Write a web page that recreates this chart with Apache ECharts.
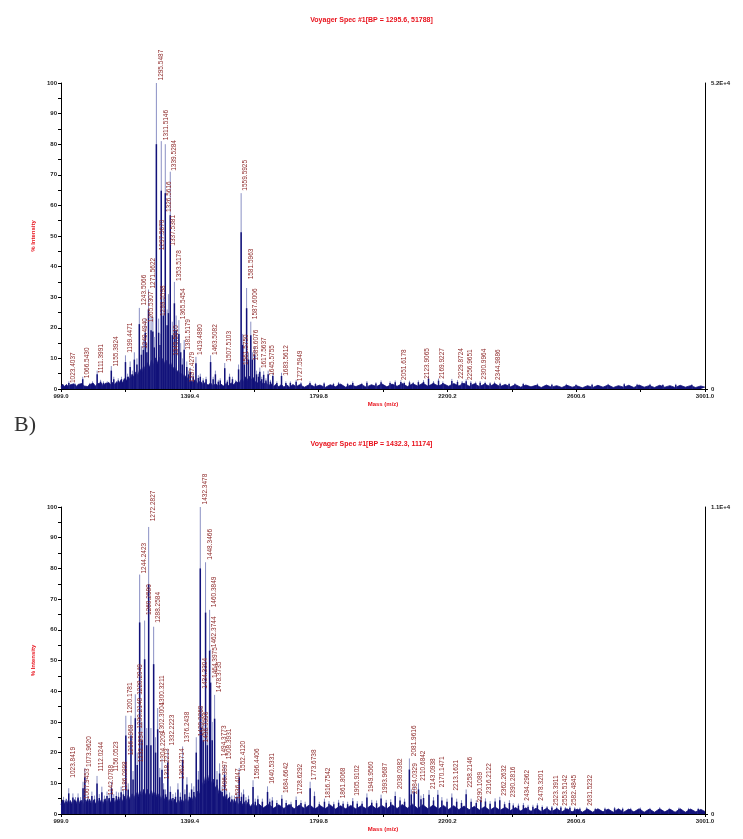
<!DOCTYPE html>
<html>
<head>
<meta charset="utf-8">
<title>Voyager spectra</title>
<script src="https://cdn.jsdelivr.net/npm/echarts@6/dist/echarts.min.js"></script>
<style>
  html, body { margin: 0; padding: 0; background: #fff; }
  #chart { width: 743px; height: 839px; }
</style>
</head>
<body>
<div id="chart"></div>
<script>
// axis ticks (m/z)
var massTicks = [999.0, 1199.2, 1399.4, 1599.6, 1799.8, 2000.0, 2200.2, 2400.4, 2600.6, 2800.8, 3001.0]
var massLabels = [999.0, 1399.4, 1799.8, 2200.2, 2600.6, 3001.0]

var titleA = 'Voyager Spec #1[BP = 1295.6, 51788]'
var titleB = 'Voyager Spec #1[BP = 1432.3, 11174]'
var scaleA = '5.2E+4'
var scaleB = '1.1E+4'

// ---------- spectrum A ----------
// [m/z, % intensity]
var peaksA = [
  [1023.4, 2.5], [1043, 1.8], [1066.5, 4], [1088, 2], [1097, 2.5], [1111.4, 6], [1122, 3], [1131, 2.5],
  [1143, 2.5], [1155.4, 7.5], [1163, 4], [1177, 3.5], [1187, 4], [1199.4, 11], [1206, 5], [1214, 9],
  [1221, 6], [1227, 12], [1235, 10], [1242.5, 26.5], [1249, 14], [1255, 16], [1261, 23], [1266, 15],
  [1271, 32.5], [1279, 24], [1284.5, 23.5], [1289, 17], [1295.5, 100], [1302.5, 23], [1307, 18],
  [1310.7, 81], [1317, 30], [1323.2, 80], [1329, 26], [1333, 31], [1338.7, 71], [1345, 22], [1351.5, 35],
  [1357, 24], [1365.5, 22.5], [1371, 15], [1376, 10], [1382, 16], [1390, 9], [1396, 6], [1401, 7],
  [1410, 5], [1418.5, 10.5], [1426, 4.5], [1432, 5], [1441, 3.5], [1450, 4], [1464, 11], [1472, 4],
  [1479, 6], [1488, 3], [1494, 3.5], [1508, 8.5], [1516, 3], [1523, 5], [1532, 4], [1542, 3],
  [1551, 8], [1559, 64], [1564, 18], [1569, 10], [1576, 33], [1582, 12], [1589, 22], [1594, 12],
  [1601, 14], [1607, 6], [1613, 5], [1617, 7], [1623, 4], [1629, 5.8], [1636, 3.5], [1643, 6],
  [1650, 3], [1657.5, 5.3], [1670, 2.5], [1684.5, 5.3], [1698, 2.5], [1712, 2.5], [1730, 3],
  [1745, 2.2], [1773, 2.5], [1790, 2], [1817, 2.2], [1846, 2], [1862, 2.3], [1890, 2], [1906, 2.5],
  [1934, 2], [1950, 2.6], [1978, 2.2], [1994, 2.8], [2022, 2.5], [2038, 2.8], [2055.5, 2.9],
  [2066, 2.4], [2082.4, 2.7], [2094, 2.3], [2110, 2.8], [2126, 2.9], [2141.5, 4.2], [2157, 2.6],
  [2172.6, 3.4], [2186, 2.5], [2214, 3.3], [2231.6, 2.9], [2246, 2.6], [2258.6, 3.2], [2273, 2.6],
  [2288, 2.4], [2302, 2.6], [2317.6, 2.4], [2333, 2.2], [2346.6, 2.4], [2364, 2.1], [2392, 2.0],
  [2410, 1.9], [2436, 2.0], [2480, 1.8], [2525, 1.7], [2570, 1.7], [2600, 1.6], [2650, 1.7],
  [2700, 1.7], [2750, 1.9], [2790, 1.7], [2830, 1.7], [2870, 1.6], [2910, 1.7], [2960, 1.6]
]

// [m/z, % intensity where the label starts, text]
var labelsA = [
  [1023.4, 1.6, '1023.4037'], [1066.5, 3.2, '1066.5430'], [1111.4, 4.8, '1111.3991'],
  [1155.4, 7, '1155.3924'], [1199.4, 11.5, '1199.4471'], [1242.5, 27, '1243.5066'],
  [1248, 12.8, '1249.4940'], [1264, 21.5, '1265.5307'], [1270.5, 32.5, '1271.5622'],
  [1295.5, 100.5, '1295.5487'], [1300.5, 45, '1297.5670'], [1302.5, 23.5, '1299.5598'],
  [1310.7, 81, '1311.5146'], [1322, 57.5, '1326.5616'], [1335, 46.5, '1337.5381'],
  [1337.5, 71, '1339.5284'], [1344, 10.5, '1345.5610'], [1351.5, 35, '1353.5178'],
  [1365.5, 22.5, '1365.5454'], [1381, 12.5, '1381.5179'], [1393, 1.8, '1397.4279'],
  [1418.5, 10.8, '1419.4880'], [1463.5, 10.8, '1463.5082'], [1508, 8.6, '1507.5103'],
  [1559, 64.5, '1559.5925'], [1561, 7.5, '1561.5750'], [1576, 35.5, '1581.5963'],
  [1589, 22.5, '1587.6006'], [1592, 9, '1589.6076'], [1617, 6.5, '1617.5637'],
  [1643, 4, '1645.5755'], [1684.5, 4, '1683.5612'], [1728, 2.2, '1727.5949'],
  [2052, 2.6, '2051.6178'], [2124, 3, '2123.9065'], [2169, 3, '2169.9227'],
  [2230, 3, '2229.8724'], [2257, 2.6, '2256.9651'], [2301, 2.8, '2300.9964'],
  [2345, 2.6, '2344.9886']
]

// baseline / unresolved envelope, [m/z, % intensity]
var baseA = [
  [999, 0.6], [1004, 1.6], [1010, 0.8], [1016, 1.5], [1022, 0.7], [1028, 1.4], [1034, 0.9], [1040, 1.7],
  [1046, 0.8], [1052, 1.5], [1058, 0.9], [1064, 1.8], [1070, 1.0], [1076, 1.6], [1082, 0.8], [1088, 1.5],
  [1094, 1.0], [1100, 1.8], [1106, 0.9], [1112, 1.7], [1118, 1.1], [1124, 2.0], [1130, 1.0], [1136, 1.8],
  [1142, 1.2], [1148, 2.1], [1154, 1.3], [1160, 2.2], [1166, 1.4], [1172, 2.4], [1178, 1.6], [1184, 2.8],
  [1190, 2.0], [1196, 3.4], [1202, 2.6], [1208, 4.0], [1214, 3.0], [1220, 4.8], [1226, 3.8], [1232, 5.6],
  [1238, 4.4], [1244, 6.6], [1250, 5.2], [1256, 7.6], [1262, 6.0], [1268, 8.6], [1274, 7.0], [1280, 9.4],
  [1286, 7.6], [1292, 10.2], [1298, 8.2], [1304, 10.4], [1310, 8.4], [1316, 10.0], [1322, 8.0], [1328, 9.4],
  [1334, 7.4], [1340, 8.6], [1346, 6.4], [1352, 7.4], [1358, 5.4], [1364, 6.2], [1370, 4.4], [1376, 5.2],
  [1382, 3.6], [1388, 4.4], [1394, 3.0], [1400, 3.6], [1408, 2.4], [1416, 3.0], [1424, 1.8], [1432, 2.6],
  [1440, 1.5], [1448, 2.2], [1456, 1.2], [1464, 2.0], [1472, 1.0], [1480, 1.8], [1488, 0.9], [1496, 1.6],
  [1504, 1.0], [1512, 1.8], [1520, 1.1], [1528, 2.0], [1536, 1.4], [1544, 2.4], [1552, 1.8], [1560, 3.2],
  [1566, 2.4], [1572, 4.0], [1578, 2.8], [1584, 4.2], [1590, 3.0], [1596, 3.8], [1602, 2.4], [1608, 3.0],
  [1614, 1.8], [1620, 2.6], [1628, 1.4], [1636, 2.2], [1644, 1.0], [1652, 1.8], [1660, 0.8], [1668, 1.6],
  [1676, 0.7], [1684, 1.5], [1692, 0.6], [1700, 1.4], [1710, 0.6], [1720, 1.5], [1730, 0.7], [1740, 1.4],
  [1756, 0.6], [1772, 1.5], [1788, 0.7], [1804, 1.3], [1820, 0.5], [1836, 1.4], [1852, 0.7], [1868, 1.6],
  [1884, 0.6], [1900, 1.3], [1916, 0.8], [1932, 1.5], [1948, 0.6], [1964, 1.4], [1980, 0.8], [1996, 1.7],
  [2012, 0.7], [2028, 1.6], [2044, 0.9], [2060, 1.8], [2076, 0.8], [2092, 1.7], [2108, 1.0], [2124, 1.9],
  [2140, 0.9], [2156, 1.8], [2172, 1.0], [2188, 1.7], [2204, 0.9], [2220, 1.8], [2236, 1.0], [2252, 1.9],
  [2268, 0.9], [2284, 1.7], [2300, 0.8], [2316, 1.6], [2332, 0.9], [2348, 1.7], [2364, 0.8], [2380, 1.5],
  [2396, 0.7], [2412, 1.4], [2428, 0.6], [2444, 1.3], [2460, 0.7], [2476, 1.2], [2492, 0.5], [2508, 1.3],
  [2524, 0.6], [2540, 1.1], [2556, 0.5], [2572, 1.2], [2588, 0.6], [2604, 1.0], [2620, 0.4], [2636, 1.1],
  [2652, 0.5], [2668, 1.2], [2684, 0.6], [2700, 1.3], [2716, 0.5], [2732, 1.1], [2748, 0.6], [2764, 1.2],
  [2780, 0.5], [2796, 1.3], [2812, 0.6], [2828, 1.1], [2844, 0.5], [2860, 1.2], [2876, 0.6], [2892, 1.1],
  [2908, 0.5], [2924, 1.2], [2940, 0.6], [2956, 1.1], [2972, 0.5], [2988, 1.0], [3001, 0.6]
]

// ---------- spectrum B ----------
var peaksB = [
  [1007, 5.6], [1015, 5], [1023, 8.4], [1036, 6.7], [1044, 5.5], [1052, 6.7], [1060, 5.5], [1067.5, 10.5],
  [1073, 15], [1082, 6], [1095, 7.3], [1103, 6], [1111, 12.4], [1118, 6.5], [1126, 8.9], [1134, 6],
  [1142, 7.3], [1149, 6.5], [1156, 10.5], [1163, 6.5], [1171, 7.3], [1178, 7], [1186, 8.9], [1193, 8],
  [1200.5, 32], [1208, 10], [1216.5, 32], [1223, 14], [1230, 39], [1236, 20], [1243.5, 78], [1250.5, 30],
  [1259, 63], [1265.5, 28], [1271.5, 93.5], [1278.5, 28], [1287, 61], [1293, 25], [1299.5, 34.5],
  [1306, 15], [1313, 18], [1318, 10], [1324, 8], [1331, 21], [1339, 9], [1347, 6.5], [1355, 7],
  [1362.5, 10], [1370, 7], [1377, 22], [1384, 8], [1390.5, 12], [1398, 7], [1405, 10], [1412, 9],
  [1419.5, 25], [1426, 14], [1432, 100], [1436, 35], [1441, 30], [1448.4, 82], [1454, 28], [1461, 66.5],
  [1464, 53.5], [1469, 30], [1476.5, 38.8], [1484, 14], [1492, 16.5], [1500, 9], [1507.5, 16], [1514, 8],
  [1523, 7], [1530, 6], [1538, 6], [1546, 7], [1553, 15], [1560, 7], [1566.5, 8], [1574, 5.5],
  [1582, 6], [1596, 11], [1603, 5], [1611, 6], [1625, 5], [1641, 9], [1648, 5], [1656, 5.5],
  [1670, 4.5], [1685.5, 6.2], [1699, 4.5], [1714, 4], [1730, 5.7], [1745, 4.5], [1758, 4], [1773.5, 10.5],
  [1787, 7.3], [1802, 4], [1818, 5], [1832, 4.2], [1847, 4], [1862, 4.6], [1876, 4.2], [1890, 4],
  [1906, 5.2], [1920, 4.2], [1935, 4.2], [1950, 6.7], [1965, 4.6], [1980, 4.4], [1994, 6.3], [2010, 4.6],
  [2024, 4.8], [2038, 7.3], [2053, 5.5], [2067, 5], [2082, 18.1], [2088, 8], [2097, 9], [2110.4, 10],
  [2118, 6], [2126, 6.5], [2143, 7.8], [2157, 5.5], [2170.5, 7.8], [2183, 5.5], [2199, 5], [2214, 6.7],
  [2229, 5], [2244, 4.5], [2258.5, 8], [2274, 5], [2290, 4.5], [2304, 5.6], [2318.5, 5.1], [2333, 4.2],
  [2348.5, 5.1], [2363, 5.6], [2378, 4], [2393, 4.5], [2405, 3.5], [2421, 3.4], [2436.5, 3.6], [2451, 3],
  [2466, 3], [2480, 3.5], [2495, 2.8], [2510, 2.6], [2525, 2.6], [2540, 2.4], [2553, 2.6], [2567, 2.3],
  [2581, 2.5], [2596, 2.2], [2612, 2.1], [2633, 2.2], [2660, 2.0], [2690, 2.1], [2720, 2.3], [2745, 2.1],
  [2770, 2.0], [2800, 2.1], [2830, 2.0], [2860, 2.2], [2890, 2.0], [2920, 2.1], [2950, 2.0], [2980, 2.0]
]

var labelsB = [
  [1023, 11.5, '1023.8419'], [1067.5, 4.5, '1067.9453'], [1072.5, 15, '1073.9620'],
  [1111, 13.5, '1112.0244'], [1142, 5.8, '1142.0788'], [1156, 13.5, '1156.0523'],
  [1186, 7, '1186.0998'], [1200.5, 32.5, '1200.1781'], [1202, 18.8, '1216.1968'],
  [1230, 38.5, '1228.2049'], [1232, 27.5, '1230.2148'], [1234, 16.5, '1232.1934'],
  [1243.5, 78, '1244.2423'], [1259, 64.5, '1260.2580'], [1271.5, 95, '1272.2827'],
  [1287, 62, '1288.2584'], [1299.5, 35, '1300.3211'], [1301, 26, '1302.3004'],
  [1303, 16.5, '1304.2209'], [1316, 11, '1318.2213'], [1330.5, 22, '1332.2223'],
  [1362.5, 11, '1362.2714'], [1376.5, 23, '1376.2438'], [1419.5, 25, '1420.3260'],
  [1432, 100.5, '1432.3478'], [1434, 40.5, '1434.3304'], [1436, 23, '1436.3396'],
  [1448.4, 82.5, '1448.3466'], [1460.5, 67, '1460.3849'], [1462.5, 54, '1462.3744'],
  [1464.5, 44, '1464.3975'], [1476.5, 39.3, '1478.3735'], [1492, 18.5, '1494.3773'],
  [1496, 7, '1496.3897'], [1508, 17.5, '1508.3931'], [1536, 4.5, '1536.4047'],
  [1552, 13.5, '1552.4120'], [1596, 11, '1596.4406'], [1640.5, 9.5, '1640.5331'],
  [1684.5, 6.5, '1684.6642'], [1728.5, 6, '1728.6292'], [1773.5, 10.7, '1773.6738'],
  [1817, 4.8, '1816.7542'], [1861.5, 4.8, '1861.8068'], [1905.5, 5.6, '1905.9102'],
  [1949.5, 6.8, '1949.9560'], [1993.5, 6.3, '1993.9687'], [2038, 7.8, '2038.0382'],
  [2082, 18.5, '2081.9616'], [2085, 6.2, '2084.0329'], [2110, 10.5, '2110.6842'],
  [2143, 7.8, '2143.0938'], [2170.5, 8.4, '2170.1471'], [2213.5, 7.3, '2213.1621'],
  [2258.5, 8.3, '2258.2146'], [2289.5, 3.4, '2290.1089'], [2317, 6.2, '2316.2122'],
  [2362.5, 5.6, '2362.2632'], [2391, 5.1, '2390.2816'], [2434.5, 4, '2434.2962'],
  [2478.5, 4, '2478.3201'], [2523.5, 2.4, '2523.3911'], [2553, 2.4, '2553.5142'],
  [2581, 2.4, '2582.4845'], [2631.5, 2.4, '2631.5232']
]

var baseB = [
  [999, 3.0], [1004, 4.6], [1010, 3.2], [1016, 4.8], [1022, 3.0], [1028, 4.4], [1034, 3.1], [1040, 4.7],
  [1046, 3.3], [1052, 5.0], [1058, 3.2], [1064, 4.5], [1070, 3.0], [1076, 4.6], [1082, 3.4], [1088, 4.8],
  [1094, 3.1], [1100, 4.5], [1106, 3.2], [1112, 4.8], [1118, 3.4], [1124, 4.6], [1130, 3.3], [1136, 5.0],
  [1142, 3.6], [1148, 5.0], [1154, 3.5], [1160, 5.2], [1166, 3.6], [1172, 5.0], [1178, 3.8], [1184, 5.4],
  [1190, 4.0], [1196, 5.8], [1202, 4.4], [1208, 6.2], [1214, 4.6], [1220, 6.6], [1226, 5.0], [1232, 7.0],
  [1238, 5.4], [1244, 7.6], [1250, 5.8], [1256, 8.0], [1262, 6.0], [1268, 8.0], [1274, 6.0], [1280, 7.6],
  [1286, 5.6], [1292, 7.2], [1298, 5.2], [1304, 6.6], [1310, 4.8], [1316, 6.0], [1322, 4.4], [1328, 5.6],
  [1334, 4.0], [1340, 5.2], [1346, 3.6], [1352, 4.8], [1358, 3.4], [1364, 4.6], [1370, 3.4], [1376, 4.8],
  [1382, 3.6], [1388, 5.0], [1394, 3.8], [1400, 5.4], [1406, 4.2], [1412, 6.0], [1418, 5.0], [1424, 7.4],
  [1430, 6.4], [1436, 10.6], [1442, 8.8], [1448, 12.2], [1454, 9.6], [1460, 12.6], [1466, 9.8], [1472, 11.4],
  [1478, 8.4], [1484, 9.4], [1490, 6.6], [1496, 7.6], [1502, 5.2], [1508, 6.2], [1514, 4.2], [1520, 5.2],
  [1526, 3.6], [1532, 4.6], [1538, 3.2], [1544, 4.4], [1550, 3.0], [1556, 4.2], [1562, 2.8], [1568, 4.0],
  [1574, 2.6], [1580, 3.8], [1588, 2.4], [1596, 3.6], [1604, 2.2], [1612, 3.4],
  [1628, 2.0], [1644, 3.2], [1660, 1.9], [1676, 3.0], [1692, 1.8], [1708, 3.1], [1724, 1.7], [1740, 2.9],
  [1756, 1.8], [1772, 3.0], [1788, 1.6], [1804, 2.8], [1820, 1.7], [1836, 2.9], [1852, 1.6], [1868, 2.7],
  [1884, 1.7], [1900, 2.8], [1916, 1.6], [1932, 2.7], [1948, 1.7], [1964, 2.9], [1980, 1.6], [1996, 2.8],
  [2012, 1.7], [2028, 3.0], [2044, 1.8], [2060, 3.1], [2076, 1.9], [2092, 3.2], [2108, 1.8], [2124, 3.0],
  [2140, 1.7], [2156, 2.9], [2172, 1.6], [2188, 2.8], [2204, 1.5], [2220, 2.7], [2236, 1.4], [2252, 2.6],
  [2268, 1.4], [2284, 2.5], [2300, 1.3], [2316, 2.4], [2332, 1.2], [2348, 2.3], [2364, 1.2], [2380, 2.2],
  [2396, 1.1], [2412, 2.1], [2428, 1.0], [2444, 2.0], [2460, 0.9], [2476, 1.9], [2492, 0.8], [2508, 1.8],
  [2524, 0.8], [2540, 1.7], [2556, 0.7], [2572, 1.7], [2588, 0.7], [2604, 1.6], [2620, 0.6], [2636, 1.6],
  [2652, 0.6], [2668, 1.7], [2684, 0.7], [2700, 1.6], [2716, 0.6], [2732, 1.7], [2748, 0.6], [2764, 1.6],
  [2780, 0.7], [2796, 1.7], [2812, 0.6], [2828, 1.6], [2844, 0.6], [2860, 1.7], [2876, 0.7], [2892, 1.6],
  [2908, 0.6], [2924, 1.7], [2940, 0.6], [2956, 1.6], [2972, 0.7], [2988, 1.5], [3001, 0.8]
]

// ---------- style ----------
var navy = '#12127a'
var tipColor = '#8a90c4'
var peakLabelColor = '#8e2a2a'
var red = '#e8121c'
var fontFamily = '"Liberation Sans", Arial, sans-serif'

function massAxis(gridIndex) {
  return {
    type: 'value',
    gridIndex: gridIndex,
    min: 999,
    max: 3001,
    name: 'Mass (m/z)',
    nameLocation: 'middle',
    nameGap: 12,
    nameTextStyle: { color: red, fontSize: 6, fontWeight: 'bold', fontFamily: fontFamily },
    axisLine: { show: true, lineStyle: { color: '#000', width: 1 } },
    axisTick: { show: true, length: 3, customValues: massTicks, lineStyle: { color: '#000' } },
    axisLabel: {
      customValues: massLabels,
      formatter: function (v) { return v.toFixed(1) },
      fontSize: 6,
      fontWeight: 'bold',
      fontFamily: fontFamily,
      color: '#222',
      margin: 4
    },
    splitLine: { show: false }
  }
}

function intensityAxis(gridIndex) {
  return {
    type: 'value',
    gridIndex: gridIndex,
    min: 0,
    max: 100,
    interval: 10,
    name: '% Intensity',
    nameLocation: 'middle',
    nameRotate: 90,
    nameGap: 19,
    nameTextStyle: { color: red, fontSize: 6, fontWeight: 'bold', fontFamily: fontFamily },
    axisLine: { show: true, lineStyle: { color: '#000', width: 1 } },
    axisTick: { show: true, length: 3, lineStyle: { color: '#000' } },
    minorTick: { show: true, splitNumber: 2, length: 3, lineStyle: { color: '#000' } },
    axisLabel: { fontSize: 6, fontWeight: 'bold', fontFamily: fontFamily, color: '#222', margin: 4 },
    splitLine: { show: false }
  }
}

function scaleAxis(gridIndex, topText) {
  return {
    type: 'value',
    gridIndex: gridIndex,
    position: 'right',
    min: 0,
    max: 100,
    axisLine: { show: true, lineStyle: { color: '#000', width: 1 } },
    axisTick: { show: true, length: 3, customValues: [0], lineStyle: { color: '#000' } },
    axisLabel: {
      customValues: [0, 100],
      formatter: function (v) { return v === 100 ? topText : '0' },
      fontSize: 6,
      fontWeight: 'bold',
      fontFamily: fontFamily,
      color: '#222',
      margin: 6
    },
    splitLine: { show: false }
  }
}

function renderPeak(params, api) {
  var m = api.value(0)
  var h = api.value(1)
  var p0 = api.coord([m, 0])
  var p1 = api.coord([m, h])
  var p2 = api.coord([m, h * 0.8])
  return {
    type: 'group',
    children: [
      { type: 'line', shape: { x1: p0[0], y1: p0[1], x2: p1[0], y2: p1[1] }, style: { stroke: tipColor, lineWidth: 1 } },
      { type: 'line', shape: { x1: p0[0], y1: p0[1], x2: p2[0], y2: p2[1] }, style: { stroke: navy, lineWidth: 1.5 } }
    ]
  }
}

function labelRenderer(labels) {
  return function (params, api) {
    var p = api.coord([api.value(0), api.value(1)])
    return {
      type: 'text',
      x: p[0] + 4.5,
      y: p[1] - 1,
      rotation: Math.PI / 2,
      style: {
        text: labels[params.dataIndex][2],
        fill: peakLabelColor,
        font: '6.5px ' + fontFamily,
        textAlign: 'left',
        textVerticalAlign: 'middle'
      }
    }
  }
}

function panelSeries(axisIndex, yIndex, peaks, labels, base) {
  return [
    {
      type: 'line',
      xAxisIndex: axisIndex,
      yAxisIndex: yIndex,
      data: base,
      showSymbol: false,
      silent: true,
      lineStyle: { color: navy, width: 0.8 },
      areaStyle: { color: navy, opacity: 1 },
      z: 2
    },
    {
      type: 'custom',
      xAxisIndex: axisIndex,
      yAxisIndex: yIndex,
      data: peaks,
      renderItem: renderPeak,
      encode: { x: 0, y: 1 },
      silent: true,
      z: 3
    },
    {
      type: 'custom',
      xAxisIndex: axisIndex,
      yAxisIndex: yIndex,
      data: labels.map(function (d) { return [d[0], d[1]] }),
      renderItem: labelRenderer(labels),
      encode: { x: 0, y: 1 },
      clip: false,
      silent: true,
      z: 4
    }
  ]
}

var chart = echarts.init(document.getElementById('chart'), null, { renderer: 'canvas' })

chart.setOption({
  animation: false,
  backgroundColor: '#fff',
  title: [
    { text: titleA, left: 'center', top: 12, textStyle: { color: red, fontSize: 7, fontWeight: 'bold', fontFamily: fontFamily } },
    { text: titleB, left: 'center', top: 436, textStyle: { color: red, fontSize: 7, fontWeight: 'bold', fontFamily: fontFamily } }
  ],
  graphic: [
    {
      type: 'text',
      left: 14,
      top: 414,
      style: { text: 'B)', font: '22px "Liberation Serif", serif', fill: '#333' }
    }
  ],
  grid: [
    { left: 61, right: 38, top: 83, height: 306 },
    { left: 61, right: 38, top: 507, height: 307 }
  ],
  xAxis: [massAxis(0), massAxis(1)],
  yAxis: [intensityAxis(0), scaleAxis(0, scaleA), intensityAxis(1), scaleAxis(1, scaleB)],
  series: []
    .concat(panelSeries(0, 0, peaksA, labelsA, baseA))
    .concat(panelSeries(1, 2, peaksB, labelsB, baseB))
})
</script>
</body>
</html>
